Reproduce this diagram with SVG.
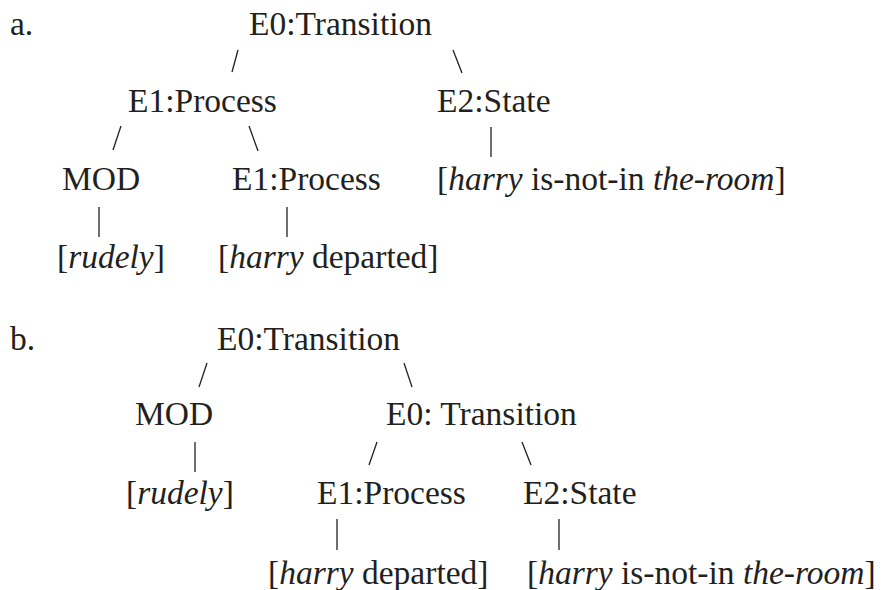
<svg xmlns="http://www.w3.org/2000/svg" width="881" height="590" viewBox="0 0 881 590">
<style>
text{font-family:'Liberation Serif','Times New Roman','DejaVu Serif',serif;font-size:33.5px;fill:#231f20}
.i{font-style:italic}
line{stroke:#231f20;stroke-width:1.3}
</style>
<rect width="881" height="590" fill="#fff"/>
<g font-family="Liberation Serif, Times New Roman, DejaVu Serif, serif">
<text x="10" y="35">a.</text>
<text x="10" y="350">b.</text>
<g id="a-e0"><text x="249" y="35">E0:Transition</text></g>
<g id="a-e1"><text x="128" y="112">E1:Process</text></g>
<g id="a-e2"><text x="437" y="112">E2:State</text></g>
<g id="a-mod"><text x="62" y="190">MOD</text></g>
<g id="a-e1b"><text x="232" y="190">E1:Process</text></g>
<g id="a-state-txt"><text x="437" y="190">[<tspan class="i">harry</tspan> is-not-in <tspan class="i">the-room</tspan>]</text></g>
<g id="a-rudely"><text x="57" y="268">[<tspan class="i">rudely</tspan>]</text></g>
<g id="a-departed"><text x="218" y="268">[<tspan class="i">harry</tspan> departed]</text></g>
<g id="b-e0"><text x="217" y="350">E0:Transition</text></g>
<g id="b-mod"><text x="135" y="425">MOD</text></g>
<g id="b-e0b"><text x="386" y="425">E0: Transition</text></g>
<g id="b-rudely"><text x="126" y="504">[<tspan class="i">rudely</tspan>]</text></g>
<g id="b-e1"><text x="317" y="504">E1:Process</text></g>
<g id="b-e2"><text x="523" y="504">E2:State</text></g>
<g id="b-departed"><text x="268" y="584">[<tspan class="i">harry</tspan> departed]</text></g>
<g id="b-state-txt"><text x="527" y="584">[<tspan class="i">harry</tspan> is-not-in <tspan class="i">the-room</tspan>]</text></g>
</g>
<g id="connectors">
<line x1="238" y1="50" x2="232" y2="72"/>
<line x1="453" y1="50" x2="462" y2="73"/>
<line x1="121" y1="126" x2="113" y2="150"/>
<line x1="249" y1="126" x2="258" y2="151"/>
<line x1="491" y1="127" x2="491" y2="157"/>
<line x1="99" y1="207" x2="99" y2="237"/>
<line x1="287" y1="207" x2="287" y2="237"/>
<line x1="207" y1="363" x2="199" y2="387"/>
<line x1="404" y1="363" x2="412" y2="387"/>
<line x1="195" y1="442" x2="195" y2="472"/>
<line x1="377" y1="442" x2="369" y2="465"/>
<line x1="522" y1="442" x2="531" y2="465"/>
<line x1="337" y1="519" x2="337" y2="550"/>
<line x1="559" y1="519" x2="559" y2="550"/>
</g>
</svg>
